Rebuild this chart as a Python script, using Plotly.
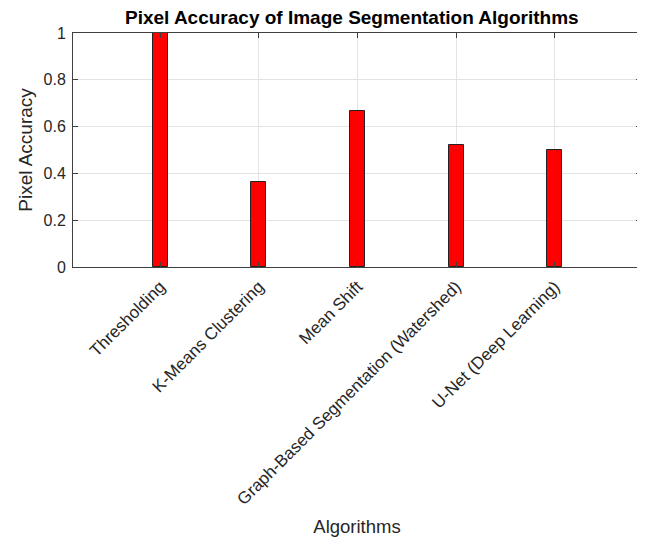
import plotly.graph_objects as go

algorithms = ["Thresholding", "K-Means Clustering", "Mean Shift",
              "Graph-Based Segmentation (Watershed)", "U-Net (Deep Learning)"]
positions = [1, 2, 3, 4, 5]
accuracy = [1.0, 0.362, 0.665, 0.522, 0.502]
y_ticks = [0, 0.2, 0.4, 0.6, 0.8, 1]
y_tick_labels = ["0", "0.2", "0.4", "0.6", "0.8", "1"]

font_family = "Liberation Sans, Arial, sans-serif"

fig = go.Figure()
fig.add_trace(go.Bar(
    x=positions, y=accuracy, width=0.15,
    marker=dict(color="#ff0000", line=dict(color="#222222", width=1)),
    showlegend=False,
))

fig.update_layout(
    width=645, height=543,
    margin=dict(l=65, r=12, t=25, b=284, autoexpand=False),
    paper_bgcolor="white", plot_bgcolor="white",
    font=dict(family=font_family, color="#262626"),
    title=dict(text="<b>Pixel Accuracy of Image Segmentation Algorithms</b>",
               x=0.533, xanchor="center", y=0.983, yanchor="middle",
               font=dict(size=19, color="black", family=font_family)),
    bargap=0,
)
fig.update_xaxes(
    range=[0.115, 5.875], tickmode="array", tickvals=positions, ticktext=algorithms,
    tickangle=-45, tickfont=dict(size=17, color="#262626"), ticklabelstandoff=2,
    showgrid=True, gridcolor="#e3e3e3", gridwidth=1,
    showline=True, linecolor="#404040", linewidth=1, mirror="ticks",
    ticks="inside", ticklen=5, tickcolor="#404040",
    title=dict(text="Algorithms", font=dict(size=18.5, color="#262626"), standoff=12),
    zeroline=False, automargin=False,
)
fig.update_yaxes(
    range=[0, 1], tickmode="array", tickvals=y_ticks, ticktext=y_tick_labels,
    tickfont=dict(size=16, color="#262626"), ticklabelstandoff=3,
    showgrid=True, gridcolor="#e3e3e3", gridwidth=1,
    showline=True, linecolor="#404040", linewidth=1, mirror="ticks",
    ticks="inside", ticklen=5, tickcolor="#404040",
    title=dict(text="Pixel Accuracy", font=dict(size=19, color="#262626"), standoff=5),
    zeroline=False, automargin=False,
)

fig.write_html("out.html")
